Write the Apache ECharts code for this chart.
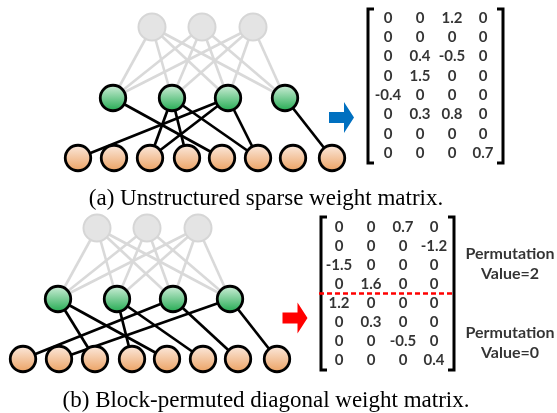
<!DOCTYPE html>
<html><head><meta charset="utf-8">
<script src="https://cdn.jsdelivr.net/npm/echarts@6/dist/echarts.min.js"></script>
<style>html,body{margin:0;padding:0;background:#fff}#c{width:557px;height:413px}</style>
</head><body><div id="c"></div>
<script>
// ---- data ----
const matrixA = [[0,0,1.2,0],[0,0,0,0],[0,0.4,-0.5,0],[0,1.5,0,0],[-0.4,0,0,0],[0,0.3,0.8,0],[0,0,0,0],[0,0,0,0.7]];
const matrixB = [[0,0,0.7,0],[0,0,0,-1.2],[-1.5,0,0,0],[0,1.6,0,0],[1.2,0,0,0],[0,0.3,0,0],[0,0,-0.5,0],[0,0,0,0.4]];
const inputCount = 3;
const captions = ['(a) Unstructured sparse weight matrix.', '(b) Block-permuted diagonal weight matrix.'];
const permLabels = ['Permutation\nValue=2', 'Permutation\nValue=0'];

// ---- layout ----
const grayX = [152,202,253], greenX = [113,172,228,285], orangeX = [78,114,150,187,222,258,293,332];
const grayY = 27, greenY = 98, orangeY = 158;
const panels = [
  {dx:0, dy:0, matrix:matrixA, mx:[388,420,452,483], my0:18, mdy:19.3, br:{l:368,r:503,t:9,b:163}, arrow:{x:341.5,y:117.5,color:'#0070c0'}, cap:{x:266,y:199}},
  {dx:-55, dy:201, matrix:matrixB, mx:[339,371,403,434], my0:227, mdy:19, br:{l:321,r:454,t:217,b:370}, arrow:{x:295,y:318,color:'#ff0000'}, cap:{x:266,y:401}}
];
const G = echarts.graphic;
const greenGrad = new G.LinearGradient(0,0,0,1,[{offset:0,color:'#d6f1df'},{offset:1,color:'#1ca84c'}]);
const orangeGrad = new G.LinearGradient(0,0,0,1,[{offset:0,color:'#fcece2'},{offset:1,color:'#eb9f5e'}]);
const arrowPath = 'path://M0,10 L15,10 L15,0 L25,15.5 L15,31 L15,21 L0,21 Z';

const series = [];
const graphic = [];
panels.forEach((p, pi) => {
  const m = p.matrix;
  const nOut = m.length, nHid = m[0].length;
  const gx = grayX.slice(0,inputCount).map(x=>x+p.dx);
  const hx = greenX.slice(0,nHid).map(x=>x+p.dx);
  const ox = orangeX.slice(0,nOut).map(x=>x+p.dx);
  const gy = grayY+p.dy, hy = greenY+p.dy, oy = orangeY+p.dy;
  const grayEdges = [];
  gx.forEach(x1=>hx.forEach(x2=>grayEdges.push({coords:[[x1,gy],[x2,hy]]})));
  series.push({type:'lines', coordinateSystem:'cartesian2d', z:1, silent:true,
    lineStyle:{color:'#d9d9d9', width:2.6, opacity:1}, data:grayEdges});
  const edges = [];
  m.forEach((row,r)=>row.forEach((v,c)=>{ if(v!==0) edges.push({coords:[[hx[c],hy],[ox[r],oy]]}); }));
  series.push({type:'lines', coordinateSystem:'cartesian2d', z:2, silent:true,
    lineStyle:{color:'#000', width:2.7, opacity:1}, data:edges});
  series.push({type:'scatter', z:3, symbolSize:27, silent:true, data:gx.map(x=>[x,gy]),
    itemStyle:{color:'#e4e4e4', borderColor:'#d6d6d6', borderWidth:2, opacity:1}});
  series.push({type:'scatter', z:3, symbolSize:25.5, silent:true, data:hx.map(x=>[x,hy]),
    itemStyle:{color:greenGrad, borderColor:'#000', borderWidth:2.8, opacity:1}});
  series.push({type:'scatter', z:3, symbolSize:25.5, silent:true, data:ox.map(x=>[x,oy]),
    itemStyle:{color:orangeGrad, borderColor:'#000', borderWidth:2.8, opacity:1}});
  const cells = [];
  m.forEach((row,r)=>row.forEach((v,c)=>cells.push([p.mx[c], p.my0+r*p.mdy, v])));
  series.push({type:'scatter', z:4, symbolSize:0, silent:true, data:cells,
    label:{show:true, position:'inside', formatter:(d)=>String(d.value[2]), color:'#000',
      fontFamily:'Lato', fontWeight:'bold', fontSize:15}});
  const b = p.br, t = 6;
  [[[b.l+t,b.t],[b.l,b.t],[b.l,b.b],[b.l+t,b.b]], [[b.r-t,b.t],[b.r,b.t],[b.r,b.b],[b.r-t,b.b]]].forEach(pts=>{
    series.push({type:'line', z:4, symbol:'none', silent:true, data:pts,
      lineStyle:{color:'#000', width:3, join:'miter', cap:'butt'}});
  });
  series.push({type:'scatter', z:4, symbol:arrowPath, symbolSize:[25,31], silent:true,
    data:[[p.arrow.x,p.arrow.y]], itemStyle:{color:p.arrow.color, opacity:1}});
  graphic.push({type:'text', x:p.cap.x, y:p.cap.y, style:{text:captions[pi], textAlign:'center', textVerticalAlign:'middle',
    font:'23px "Liberation Serif"', fill:'#000'}});
});
series.push({type:'line', z:5, symbol:'none', silent:true, data:[[319,293.5],[454,293.5]],
  lineStyle:{color:'#ff0000', width:2.5, type:[5,3]}});
[[510,264],[510,343]].forEach((pos,i)=>{
  series.push({type:'scatter', z:4, symbolSize:0, silent:true, data:[pos],
    label:{show:true, position:'inside', formatter:permLabels[i], color:'#000', fontFamily:'Lato',
      fontWeight:'bold', fontSize:16, lineHeight:20, align:'center'}});
});

const chart = echarts.init(document.getElementById('c'), null, {renderer:'canvas'});
chart.setOption({
  animation:false,
  backgroundColor:'#fff',
  grid:{left:0,right:0,top:0,bottom:0},
  xAxis:{type:'value', min:0, max:557, show:false},
  yAxis:{type:'value', min:0, max:413, inverse:true, show:false},
  graphic:graphic,
  series:series
});
</script></body></html>
